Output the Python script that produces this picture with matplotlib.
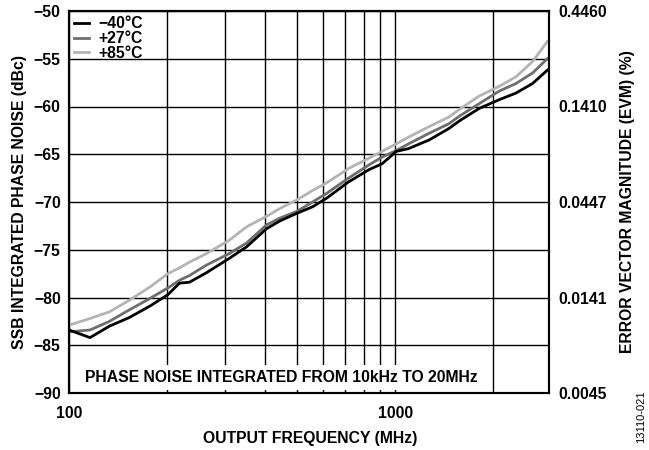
import numpy as np
import matplotlib
matplotlib.use('Agg')
import matplotlib.pyplot as plt
from matplotlib.ticker import FixedLocator, NullFormatter

plt.rcParams['font.family'] = ['Liberation Sans', 'DejaVu Sans']
plt.rcParams['font.weight'] = 'bold'
FS = 11.3

freq = [100, 116, 133, 153, 177, 201, 218, 234, 264, 310, 350, 403, 442, 498,
        558, 616, 719, 832, 911, 1008, 1100, 1271, 1461, 1574, 1809, 2079,
        2342, 2634, 2925]
pn_m40 = [-83.4, -84.2, -83.0, -82.1, -80.9, -79.7, -78.5, -78.4, -77.4, -75.9,
          -74.7, -72.8, -72.0, -71.2, -70.5, -69.6, -67.9, -66.6, -66.0, -64.7,
          -64.4, -63.5, -62.3, -61.5, -60.2, -59.3, -58.6, -57.6, -56.2]
pn_p27 = [-83.6, -83.4, -82.5, -81.3, -80.1, -79.0, -78.2, -77.7, -76.6, -75.4,
          -74.3, -72.4, -71.7, -71.0, -70.0, -69.1, -67.5, -66.1, -65.3, -64.6,
          -63.9, -62.8, -61.8, -61.0, -59.7, -58.4, -57.6, -56.5, -55.0]
pn_p85 = [-82.9, -82.2, -81.5, -80.3, -78.9, -77.5, -76.9, -76.3, -75.4, -74.0,
          -72.6, -71.5, -70.7, -69.8, -68.8, -68.0, -66.5, -65.4, -64.7, -63.9,
          -63.2, -62.1, -61.1, -60.3, -58.9, -57.9, -56.9, -55.3, -53.2]

left_ticks = [-90, -85, -80, -75, -70, -65, -60, -55, -50]
right_ticks = [-90, -80, -70, -60, -50]
right_labels = ['0.0045', '0.0141', '0.0447', '0.1410', '0.4460']
x_grid = [200, 300, 400, 500, 600, 700, 800, 900, 2000]

fig = plt.figure(figsize=(6.49, 4.5), dpi=100)
ax = fig.add_axes([69 / 649, 1 - 393 / 450, 480 / 649, 382 / 450])

ax.plot(freq, pn_m40, color='black', lw=2.0, label='\u221240°C', zorder=5)
ax.plot(freq, pn_p27, color='#6e6e6e', lw=2.0, label='+27°C', zorder=4)
ax.plot(freq, pn_p85, color='#b4b4b4', lw=2.0, label='+85°C', zorder=3)

ax.set_xscale('log')
ax.set_xlim(100, 2960)
ax.set_ylim(-90, -50)
ax.xaxis.set_major_locator(FixedLocator([100, 1000]))
ax.xaxis.set_minor_locator(FixedLocator(x_grid))
ax.xaxis.set_major_formatter(plt.FuncFormatter(lambda v, p: '%d' % v))
ax.xaxis.set_minor_formatter(NullFormatter())
ax.set_yticks(left_ticks)
ax.set_yticklabels(['\u2212%d' % abs(t) for t in left_ticks])
ax.grid(True, which='both', color='black', lw=1.0)
ax.tick_params(which='both', length=0, labelsize=FS)
ax.tick_params(axis='x', pad=9)
ax.tick_params(axis='y', pad=6)
for s in ax.spines.values():
    s.set_linewidth(1.5)

ax.set_xlabel('OUTPUT FREQUENCY (MHz)', fontsize=FS, fontweight='bold')
ax.set_ylabel('SSB INTEGRATED PHASE NOISE (dBc)', fontsize=FS, fontweight='bold')
ax.xaxis.set_label_coords(0.502, -0.10)
ax.yaxis.set_label_coords(-0.088, 0.5)

ax2 = ax.twinx()
ax2.set_ylim(-90, -50)
ax2.set_yticks(right_ticks)
ax2.set_yticklabels(right_labels)
ax2.tick_params(length=0, labelsize=FS, pad=7)
ax2.set_ylabel('ERROR VECTOR MAGNITUDE (EVM) (%)', fontsize=FS, fontweight='bold')
ax2.yaxis.set_label_coords(1.148, 0.5)
for s in ax2.spines.values():
    s.set_linewidth(1.5)

leg = ax.legend(loc='upper left', frameon=False, fontsize=FS, handlelength=0.95,
                handletextpad=0.6, labelspacing=-0.02, borderaxespad=0.1,
                borderpad=0.25)

ax.text(0.442, 0.04, 'PHASE NOISE INTEGRATED FROM 10kHz TO 20MHz', transform=ax.transAxes,
        ha='center', va='center', fontsize=FS, fontweight='bold', zorder=6,
        bbox=dict(facecolor='white', edgecolor='none', pad=3.5))

fig.text(641 / 649, 1 - 417 / 450, '13110-021', rotation=90, fontsize=8,
         fontweight='normal', ha='center', va='center')

fig.savefig('out.png', dpi=100)
